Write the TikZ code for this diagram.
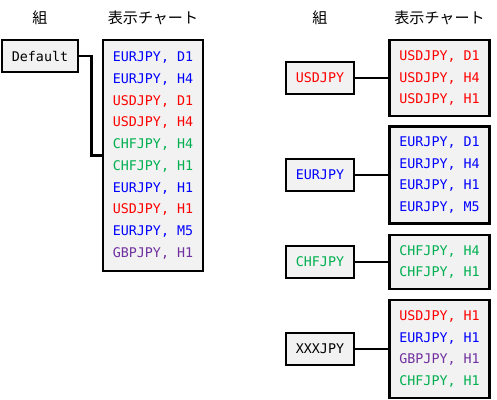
\documentclass[tikz,border=0pt]{standalone}
\usepackage{fontspec}
\setmonofont{DejaVu Sans Mono}
\newfontfamily\jpfont{Noto Sans CJK JP}
\usepackage{tikz}
\usetikzlibrary{positioning,calc}
\usepackage{xcolor}
\definecolor{usd}{HTML}{FF0000}
\definecolor{eur}{HTML}{0000FF}
\definecolor{chf}{HTML}{00B050}
\definecolor{gbp}{HTML}{7030A0}
\definecolor{boxfill}{HTML}{F2F2F2}

\begin{document}
\begin{tikzpicture}[
        x=0.75pt, y=-0.75pt,
        group/.style={draw, line width=1.9pt, fill=boxfill, minimum width=51pt, minimum height=24pt, inner sep=0pt,
            font=\ttfamily\fontsize{10}{12}\selectfont},
        charts/.style={draw, line width=1.9pt, fill=boxfill, minimum width=75pt, inner sep=0pt, align=left,
            font=\ttfamily\fontsize{10}{16.3}\selectfont},
        head/.style={font=\jpfont\fontsize{11.3}{13}\selectfont},
        link/.style={line width=1.9pt}
    ]
        \useasboundingbox (0,0) rectangle (497,400);

        % Lado esquerdo: grupo Default
        \node[group, minimum width=57pt] (gDef) at (40,56) {Default};
        \node[charts, minimum height=173.25pt] (cDef) at (153,155.5) {%
            \textcolor{eur}{EURJPY, D1}\\ \textcolor{eur}{EURJPY, H4}\\
            \textcolor{usd}{USDJPY, D1}\\ \textcolor{usd}{USDJPY, H4}\\
            \textcolor{chf}{CHFJPY, H4}\\ \textcolor{chf}{CHFJPY, H1}\\
            \textcolor{eur}{EURJPY, H1}\\ \textcolor{usd}{USDJPY, H1}\\
            \textcolor{eur}{EURJPY, M5}\\ \textcolor{gbp}{GBPJPY, H1}};

        % Lado direito: grupos por par
        \node[group, text=usd] (gUsd) at (320,78) {USDJPY};
        \node[group, text=eur] (gEur) at (320,175) {EURJPY};
        \node[group, text=chf] (gChf) at (320,262) {CHFJPY};
        \node[group] (gXxx) at (320,349) {XXXJPY};

        \node[charts, minimum height=57pt, right=24.75pt of gUsd] (cUsd) {%
            \textcolor{usd}{USDJPY, D1}\\ \textcolor{usd}{USDJPY, H4}\\
            \textcolor{usd}{USDJPY, H1}};
        \node[charts, minimum height=72.75pt, right=24.75pt of gEur] (cEur) {%
            \textcolor{eur}{EURJPY, D1}\\ \textcolor{eur}{EURJPY, H4}\\
            \textcolor{eur}{EURJPY, H1}\\ \textcolor{eur}{EURJPY, M5}};
        \node[charts, minimum height=40.5pt, right=24.75pt of gChf] (cChf) {%
            \textcolor{chf}{CHFJPY, H4}\\ \textcolor{chf}{CHFJPY, H1}};
        \node[charts, minimum height=73.5pt, right=24.75pt of gXxx] (cXxx) {%
            \textcolor{usd}{USDJPY, H1}\\ \textcolor{eur}{EURJPY, H1}\\
            \textcolor{gbp}{GBPJPY, H1}\\ \textcolor{chf}{CHFJPY, H1}};

        % Cabeçalhos
        \coordinate (hy) at (0,18);
        \node[head] (hGrpL) at (gDef |- hy) {組};
        \node[head] (hChtL) at (cDef |- hy) {表示チャート};
        \node[head] (hGrpR) at (gUsd |- hy) {組};
        \node[head] (hChtR) at (cUsd |- hy) {表示チャート};

        % Conexões
        \draw[link] (gDef.east) -- ++(12,0) |- (cDef.west);
        \draw[link] (gUsd) -- (cUsd);
        \draw[link] (gEur) -- (cEur);
        \draw[link] (gChf) -- (cChf);
        \draw[link] (gXxx) -- (cXxx);
    \end{tikzpicture}
\end{document}
